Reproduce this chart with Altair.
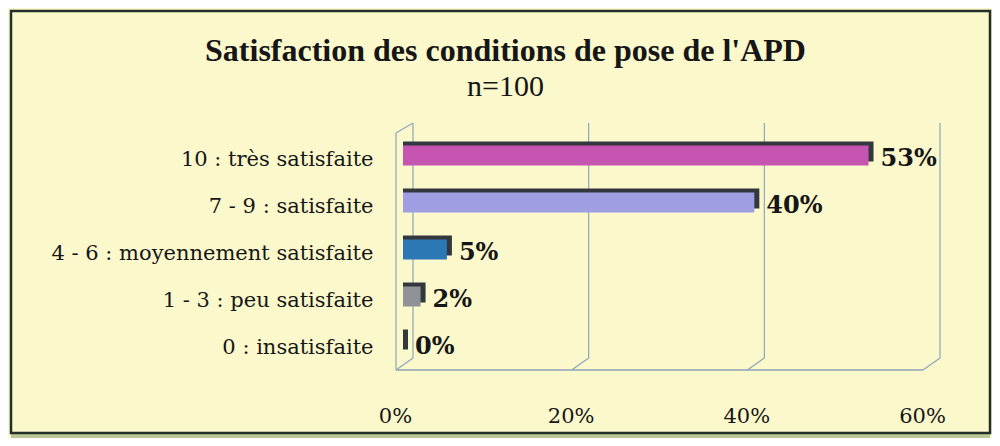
import altair as alt
import pandas as pd

# ---- data ----
categories = [
    "10 : très satisfaite",
    "7 - 9 : satisfaite",
    "4 - 6 : moyennement satisfaite",
    "1 - 3 : peu satisfaite",
    "0 : insatisfaite",
]
values = [53, 40, 5, 2, 0]
value_labels = ["53%", "40%", "5%", "2%", "0%"]
bar_colors = ["#C655B1", "#A09EE2", "#2C78B5", "#8F9296", "#3A3F44"]
ticks = [0, 20, 40, 60]

df = pd.DataFrame({"cat": categories, "value": values, "label": value_labels, "color": bar_colors})
grid = pd.DataFrame({"t": ticks})
floor = pd.DataFrame({"a": [ticks[0]], "b": [ticks[-1]]})

W, H = 527, 235
BG = "#FBF8CC"
GRID = "#8FA6B6"
DARK = "#33383E"
INK = "#161616"

xs = alt.Scale(domain=[0, 60], nice=False, zero=True)
ys = alt.Scale(domain=categories, paddingInner=0, paddingOuter=0)

y_axis = alt.Y(
    "cat:N", scale=ys, sort=categories, title=None,
    axis=alt.Axis(domain=False, ticks=False, grid=False, labelPadding=30, labelOffset=4,
                  labelFont="DejaVu Serif", labelFontSize=21, labelColor=INK, labelLimit=420),
)

# frame decoration
frame = alt.Chart(floor).mark_rect(fill=None, stroke="#23302A", strokeWidth=2.5).encode(
    x=alt.value(-392), x2=alt.value(W + 60), y=alt.value(-121), y2=alt.value(H + 66)
)
band = alt.Chart(floor).mark_rect(fill="#B9C894").encode(
    x=alt.value(-392), x2=alt.value(W + 60), y=alt.value(H + 67), y2=alt.value(H + 72)
)

# 3D-like grid: back wall lines, floor diagonals, floor front edge, left wall
back = alt.Chart(grid).mark_rule(color=GRID, strokeWidth=1.2, xOffset=10).encode(
    x=alt.X("t:Q", scale=xs, axis=alt.Axis(values=ticks, labelExpr="datum.value + '%'", domain=False,
                                           ticks=False, grid=False, labelPadding=38, labelOffset=-8,
                                           labelFlush=False, labelOverlap=False,
                                           labelFont="DejaVu Serif", labelFontSize=21,
                                           labelColor=INK, title=None)),
    y=alt.value(-9), y2=alt.value(H - 9),
)
diag = alt.Chart(grid).mark_rule(color=GRID, strokeWidth=1.2, xOffset=10, x2Offset=-7).encode(
    x=alt.X("t:Q", scale=xs), x2="t:Q", y=alt.value(H - 9), y2=alt.value(H + 3)
)
front_floor = alt.Chart(floor).mark_rule(color=GRID, strokeWidth=1.5, xOffset=-7, x2Offset=-7).encode(
    x=alt.X("a:Q", scale=xs), x2="b:Q", y=alt.value(H + 3)
)
left_edge = alt.Chart(floor).mark_rule(color=GRID, strokeWidth=1.2, xOffset=-7).encode(
    x=alt.X("a:Q", scale=xs), y=alt.value(1), y2=alt.value(H + 3)
)
left_top = alt.Chart(floor).mark_rule(color=GRID, strokeWidth=1.2, xOffset=10, x2Offset=-7).encode(
    x=alt.X("a:Q", scale=xs), x2="a:Q", y=alt.value(-9), y2=alt.value(1)
)

# bars with a dark extruded face
depth = alt.Chart(df).mark_bar(size=20, xOffset=5, yOffset=-4, color=DARK).encode(
    x=alt.X("value:Q", scale=xs), x2=alt.datum(0), y=y_axis
)
bars = alt.Chart(df).mark_bar(size=20).encode(
    x=alt.X("value:Q", scale=xs), x2=alt.datum(0), y=y_axis,
    color=alt.Color("color:N", scale=None),
)
text = alt.Chart(df).mark_text(align="left", baseline="middle", dx=12, dy=3, font="DejaVu Serif",
                               fontWeight="bold", fontSize=24, color=INK).encode(
    x=alt.X("value:Q", scale=xs), y=y_axis, text="label:N"
)

chart = alt.layer(band, frame, back, diag, front_floor, left_edge, left_top, depth, bars, text).properties(
    width=W, height=H,
    padding={"left": 395, "top": 124, "right": 62, "bottom": 71},
    autosize=alt.AutoSizeParams(type="none"),
    background=BG,
    title=alt.TitleParams(
        text="Satisfaction des conditions de pose de l'APD", subtitle="n=100",
        font="Liberation Serif", fontSize=32, fontWeight="bold", color=INK,
        subtitleFont="Liberation Serif", subtitleFontSize=30, subtitleColor=INK,
        subtitlePadding=4, anchor="middle", frame="group", dx=-161, offset=-93,
    ),
).configure_view(stroke=None)

chart.save("out.html", embed_options={"renderer": "svg", "actions": False})
